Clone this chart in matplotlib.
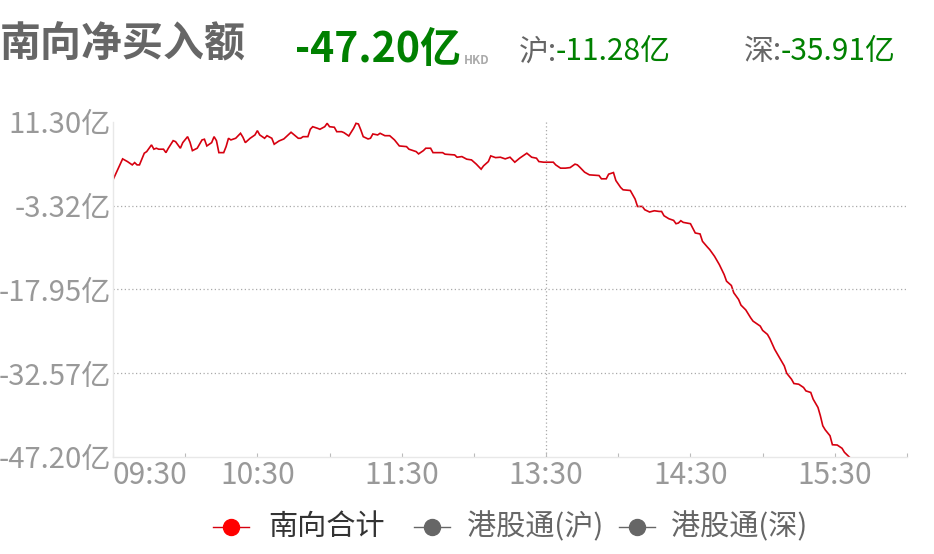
import matplotlib
matplotlib.use("Agg")
import matplotlib.pyplot as plt
from matplotlib.lines import Line2D

plt.rcParams['font.family'] = ['Noto Sans CJK SC', 'DejaVu Sans']

# ---- data (trading minutes since 09:30, lunch break removed) ----
minutes = [0,4,6,8,9,10,11,13,14,16,17,18,19,21,22,23,25,26,28,29,31,32,33,35,37,38,39,41,42,43,44,46,47,48,49,51,53,54,55,57,59,60,61,63,64,66,67,69,71,74,75,77,78,79,81,82,83,85,86,88,89,90,92,93,95,96,98,100,101,102,103,104,106,107,108,110,111,113,115,117,119,122,123,126,127,129,130,132,133,137,138,142,143,145,147,149,151,153,154,156,157,159,161,163,165,167,169,171,172,174,176,177,179,183,184,186,188,190,192,193,194,196,198,202,203,205,206,208,209,211,212,215,217,218,220,221,223,225,227,228,229,231,233,234,235,236,237,240,242,244,245,247,248,250,252,254,255,257,258,260,261,263,265,266,269,270,272,273,275,277,279,280,282,283,285,287,288,290,291,293,294,295,296,298,299,301,303,304,306]
net_buy = [1.20,4.86,4.39,3.81,4.21,3.81,3.81,5.85,6.13,7.30,6.55,6.72,6.55,6.55,5.95,6.72,8.04,7.87,6.72,7.70,8.74,7.77,6.30,6.72,8.17,8.29,7.12,7.70,8.74,8.04,5.95,5.95,7.00,8.46,8.17,8.46,9.33,8.64,7.70,8.46,9.04,9.79,9.04,8.46,8.91,8.46,7.42,7.99,8.34,9.51,9.16,8.46,8.46,8.74,8.74,10.03,10.48,10.20,10.03,10.48,11.07,10.48,10.38,9.61,9.61,9.44,8.86,10.20,11.07,10.95,9.91,8.74,8.34,8.46,9.21,9.04,9.33,8.91,8.91,8.17,7.12,7.00,6.55,6.13,5.73,6.30,6.72,6.72,5.95,5.95,5.68,5.55,5.15,5.26,4.81,4.68,3.94,3.06,3.64,4.39,5.38,5.08,5.15,4.86,5.15,4.28,4.98,5.55,5.85,5.15,4.98,4.39,4.28,4.28,3.81,3.24,3.24,3.34,3.94,3.81,3.41,2.54,2.07,1.95,1.38,1.38,2.19,2.47,1.08,-0.14,-0.54,-0.66,-2.16,-3.45,-3.45,-4.02,-4.42,-4.20,-4.32,-4.32,-5.07,-5.59,-5.88,-6.46,-6.34,-5.94,-6.23,-6.46,-8.08,-8.25,-9.54,-10.52,-10.98,-12.15,-13.60,-15.34,-16.50,-17.25,-18.52,-19.69,-20.68,-21.52,-22.88,-23.47,-24.34,-25.09,-25.79,-26.53,-28.40,-29.84,-31.30,-32.57,-33.62,-34.37,-34.49,-35.06,-35.66,-35.93,-37.10,-38.55,-40.01,-41.75,-42.45,-43.49,-45.06,-45.11,-45.68,-46.38,-47.20]

y_ticks = [11.30, -3.32, -17.95, -32.57, -47.20]
y_tick_labels = ["11.30亿", "-3.32亿", "-17.95亿", "-32.57亿", "-47.20亿"]
x_tick_pos = [0, 60, 120, 180, 240, 300]
x_tick_labels = ["09:30", "10:30", "11:30", "13:30", "14:30", "15:30"]
x_minor_pos = [30, 90, 150, 210, 270, 330]

title = "南向净买入额"
total_text = "-47.20亿"
sh_label, sh_value = "沪:", "-11.28亿"
sz_label, sz_value = "深:", "-35.91亿"
legend_names = ["南向合计", "港股通(沪)", "港股通(深)"]

W, H = 934, 554
fig = plt.figure(figsize=(W/100, H/100), dpi=100)
fig.patch.set_facecolor('white')

L, R, T, B = 113, 907, 122, 457
ax = fig.add_axes([L/W, 1-B/H, (R-L)/W, (B-T)/H])
ax.plot(minutes, net_buy, color='#d6000f', lw=1.2, solid_joinstyle='miter')
ax.set_xlim(0, 330)
ax.set_ylim(-47.20, 11.30)

for s in ['top', 'right']:
    ax.spines[s].set_visible(False)
for s in ['left', 'bottom']:
    ax.spines[s].set_color('#e8e8e8')
    ax.spines[s].set_linewidth(1)

ax.set_yticks(y_ticks)
ax.set_yticklabels(y_tick_labels)
ax.tick_params(axis='y', length=0, pad=1.5, labelsize=21, labelcolor='#999999')

ax.set_xticks(x_tick_pos)
ax.set_xticklabels(x_tick_labels)
ax.set_xticks(x_minor_pos, minor=True)
ax.tick_params(axis='x', which='both', direction='in', length=3, width=0.8,
               color='#bbbbbb', pad=2, labelsize=21.5, labelcolor='#999999')
ax.get_xticklabels()[0].set_horizontalalignment('left')

for yv in y_ticks[1:4]:
    ax.axhline(yv, color='#aaaaaa', lw=0.9, ls=(0, (1, 2)))
ax.axvline(180, color='#aaaaaa', lw=0.9, ls=(0, (1, 2)))

def fx(px):
    return px / W

def fy(py):
    return 1 - py / H

# header
fig.text(fx(0), fy(44), title, fontsize=29.5, fontweight='bold', color='#666666', va='center', ha='left')
fig.text(fx(295), fy(50), total_text, fontsize=29.5, fontweight='bold', color='#008000', va='center', ha='left')
fig.text(fx(464), fy(60), "HKD", fontsize=8.5, fontweight='bold', color='#aaaaaa', va='center', ha='left')
fig.text(fx(519), fy(52), sh_label, fontsize=21.5, color='#666666', va='center', ha='left')
fig.text(fx(556), fy(52), sh_value, fontsize=21.5, color='#008000', va='center', ha='left')
fig.text(fx(744), fy(52), sz_label, fontsize=21.5, color='#666666', va='center', ha='left')
fig.text(fx(781), fy(52), sz_value, fontsize=21.5, color='#008000', va='center', ha='left')

# legend
leg_y = 527
leg_items = [(231, 268, '#ff0000', '#d6000f', '#333333'),
             (432, 467, '#666666', '#666666', '#666666'),
             (637, 671, '#666666', '#666666', '#666666')]
for (mx, tx, mc, lc, tc), name in zip(leg_items, legend_names):
    fig.add_artist(Line2D([fx(mx-18), fx(mx+18)], [fy(leg_y), fy(leg_y)], color=lc, lw=1,
                          transform=fig.transFigure))
    fig.add_artist(Line2D([fx(mx)], [fy(leg_y)], marker='o', markersize=11.5, color=mc,
                          markeredgecolor=mc, transform=fig.transFigure))
    fig.text(fx(tx), fy(leg_y), name, fontsize=21, color=tc, va='center', ha='left')

fig.savefig('out.png', dpi=100, facecolor='white')
